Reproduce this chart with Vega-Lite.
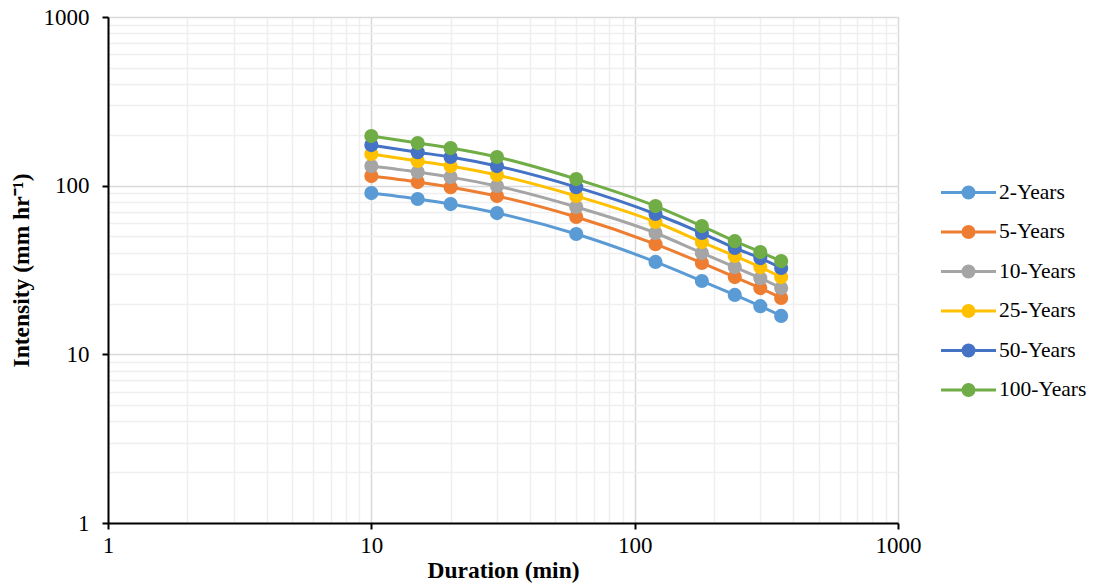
{
  "$schema": "https://vega.github.io/schema/vega-lite/v6.json",
  "autosize": {"type": "none"},
  "width": 790,
  "height": 506,
  "padding": {"left": 108, "top": 17, "right": 198, "bottom": 63},
  "background": "white",
  "config": {
    "view": {"stroke": null},
    "font": "Liberation Serif",
    "axis": {
      "labelFont": "Liberation Serif",
      "titleFont": "Liberation Serif",
      "labelFontSize": 23,
      "titleFontSize": 23.5,
      "labelColor": "#000000",
      "titleColor": "#000000",
      "titleFontWeight": "bold",
      "domainColor": "#000000",
      "domainWidth": 2,
      "tickColor": "#000000",
      "tickWidth": 2,
      "tickSize": 6,
      "gridWidth": 1.5
    },
    "legend": {
      "labelFont": "Liberation Serif",
      "labelFontSize": 21.5,
      "labelColor": "#000000"
    }
  },
  "data": {
    "values": [
      {"d": 10, "s": "2-Years", "i": 90.4},
      {"d": 15, "s": "2-Years", "i": 83.3},
      {"d": 20, "s": "2-Years", "i": 77.8},
      {"d": 30, "s": "2-Years", "i": 68.8},
      {"d": 60, "s": "2-Years", "i": 51.7},
      {"d": 120, "s": "2-Years", "i": 35.3},
      {"d": 180, "s": "2-Years", "i": 27.2},
      {"d": 240, "s": "2-Years", "i": 22.5},
      {"d": 300, "s": "2-Years", "i": 19.3},
      {"d": 360, "s": "2-Years", "i": 16.9},
      {"d": 10, "s": "5-Years", "i": 114},
      {"d": 15, "s": "5-Years", "i": 105},
      {"d": 20, "s": "5-Years", "i": 98},
      {"d": 30, "s": "5-Years", "i": 86.8},
      {"d": 60, "s": "5-Years", "i": 65.2},
      {"d": 120, "s": "5-Years", "i": 45},
      {"d": 180, "s": "5-Years", "i": 34.8},
      {"d": 240, "s": "5-Years", "i": 28.7},
      {"d": 300, "s": "5-Years", "i": 24.7},
      {"d": 360, "s": "5-Years", "i": 21.6},
      {"d": 10, "s": "10-Years", "i": 130.7},
      {"d": 15, "s": "10-Years", "i": 120.4},
      {"d": 20, "s": "10-Years", "i": 112.4},
      {"d": 30, "s": "10-Years", "i": 99.5},
      {"d": 60, "s": "10-Years", "i": 74.7},
      {"d": 120, "s": "10-Years", "i": 52.4},
      {"d": 180, "s": "10-Years", "i": 39.9},
      {"d": 240, "s": "10-Years", "i": 32.9},
      {"d": 300, "s": "10-Years", "i": 28.3},
      {"d": 360, "s": "10-Years", "i": 24.7},
      {"d": 10, "s": "25-Years", "i": 154},
      {"d": 15, "s": "25-Years", "i": 140},
      {"d": 20, "s": "25-Years", "i": 130.7},
      {"d": 30, "s": "25-Years", "i": 115.6},
      {"d": 60, "s": "25-Years", "i": 86.8},
      {"d": 120, "s": "25-Years", "i": 60.9},
      {"d": 180, "s": "25-Years", "i": 46.3},
      {"d": 240, "s": "25-Years", "i": 38.3},
      {"d": 300, "s": "25-Years", "i": 32.9},
      {"d": 360, "s": "25-Years", "i": 28.7},
      {"d": 10, "s": "50-Years", "i": 174},
      {"d": 15, "s": "50-Years", "i": 158},
      {"d": 20, "s": "50-Years", "i": 147.8},
      {"d": 30, "s": "50-Years", "i": 130.7},
      {"d": 60, "s": "50-Years", "i": 98},
      {"d": 120, "s": "50-Years", "i": 67.9},
      {"d": 180, "s": "50-Years", "i": 52.4},
      {"d": 240, "s": "50-Years", "i": 42.7},
      {"d": 300, "s": "50-Years", "i": 37.2},
      {"d": 360, "s": "50-Years", "i": 32.5},
      {"d": 10, "s": "100-Years", "i": 196.8},
      {"d": 15, "s": "100-Years", "i": 178.9},
      {"d": 20, "s": "100-Years", "i": 167},
      {"d": 30, "s": "100-Years", "i": 147.8},
      {"d": 60, "s": "100-Years", "i": 109.4},
      {"d": 120, "s": "100-Years", "i": 75.7},
      {"d": 180, "s": "100-Years", "i": 57.6},
      {"d": 240, "s": "100-Years", "i": 46.9},
      {"d": 300, "s": "100-Years", "i": 40.4},
      {"d": 360, "s": "100-Years", "i": 35.7}
    ]
  },
  "mark": {
    "type": "line",
    "interpolate": "monotone",
    "strokeWidth": 3,
    "point": {"filled": true, "size": 200, "opacity": 1}
  },
  "encoding": {
    "x": {
      "field": "d",
      "type": "quantitative",
      "scale": {"type": "log", "domain": [1, 1000], "nice": false},
      "axis": {
        "title": "Duration (min)",
        "titlePadding": 1,
        "labelPadding": 5,
        "values": [1,2,3,4,5,6,7,8,9,10,20,30,40,50,60,70,80,90,100,200,300,400,500,600,700,800,900,1000],
        "labelExpr": "indexof([1,10,100,1000], datum.value) >= 0 ? '' + datum.value : ''",
        "gridColor": {"condition": {"test": "indexof([1,10,100,1000], datum.value) >= 0", "value": "#d9d9d9"}, "value": "#efefef"},
        "tickOpacity": {"condition": {"test": "indexof([1,10,100,1000], datum.value) >= 0", "value": 1}, "value": 0},
        "labelFlush": false,
        "labelOverlap": false
      }
    },
    "y": {
      "field": "i",
      "type": "quantitative",
      "scale": {"type": "log", "domain": [1, 1000], "nice": false},
      "axis": {
        "title": "Intensity (mm hr⁻¹)",
        "titlePadding": 10,
        "labelPadding": 13,
        "values": [1,2,3,4,5,6,7,8,9,10,20,30,40,50,60,70,80,90,100,200,300,400,500,600,700,800,900,1000],
        "labelExpr": "indexof([1,10,100,1000], datum.value) >= 0 ? '' + datum.value : ''",
        "gridColor": {"condition": {"test": "indexof([1,10,100,1000], datum.value) >= 0", "value": "#d9d9d9"}, "value": "#efefef"},
        "tickOpacity": {"condition": {"test": "indexof([1,10,100,1000], datum.value) >= 0", "value": 1}, "value": 0},
        "labelFlush": false,
        "labelOverlap": false
      }
    },
    "color": {
      "field": "s",
      "type": "nominal",
      "sort": null,
      "scale": {
        "domain": ["2-Years", "5-Years", "10-Years", "25-Years", "50-Years", "100-Years"],
        "range": ["#5B9BD5", "#ED7D31", "#A5A5A5", "#FFC000", "#4472C4", "#70AD47"]
      },
      "legend": {
        "title": null,
        "orient": "none",
        "legendX": 849,
        "legendY": 164,
        "padding": 0,
        "labelFont": "Liberation Serif",
        "symbolType": "M-2.75,0L2.75,0M-0.55,0A0.55,0.55 0 1,1 0.55,0A0.55,0.55 0 1,1 -0.55,0",
        "symbolSize": 400,
        "symbolStrokeWidth": 3,
        "symbolOpacity": 1,
        "labelOffset": 19,
        "rowPadding": 16.5,
        "encode": {
          "symbols": {"update": {"fill": {"scale": "color", "field": "value"}, "stroke": {"scale": "color", "field": "value"}}}
        }
      }
    },
    "order": {"field": "d", "type": "quantitative"}
  }
}
